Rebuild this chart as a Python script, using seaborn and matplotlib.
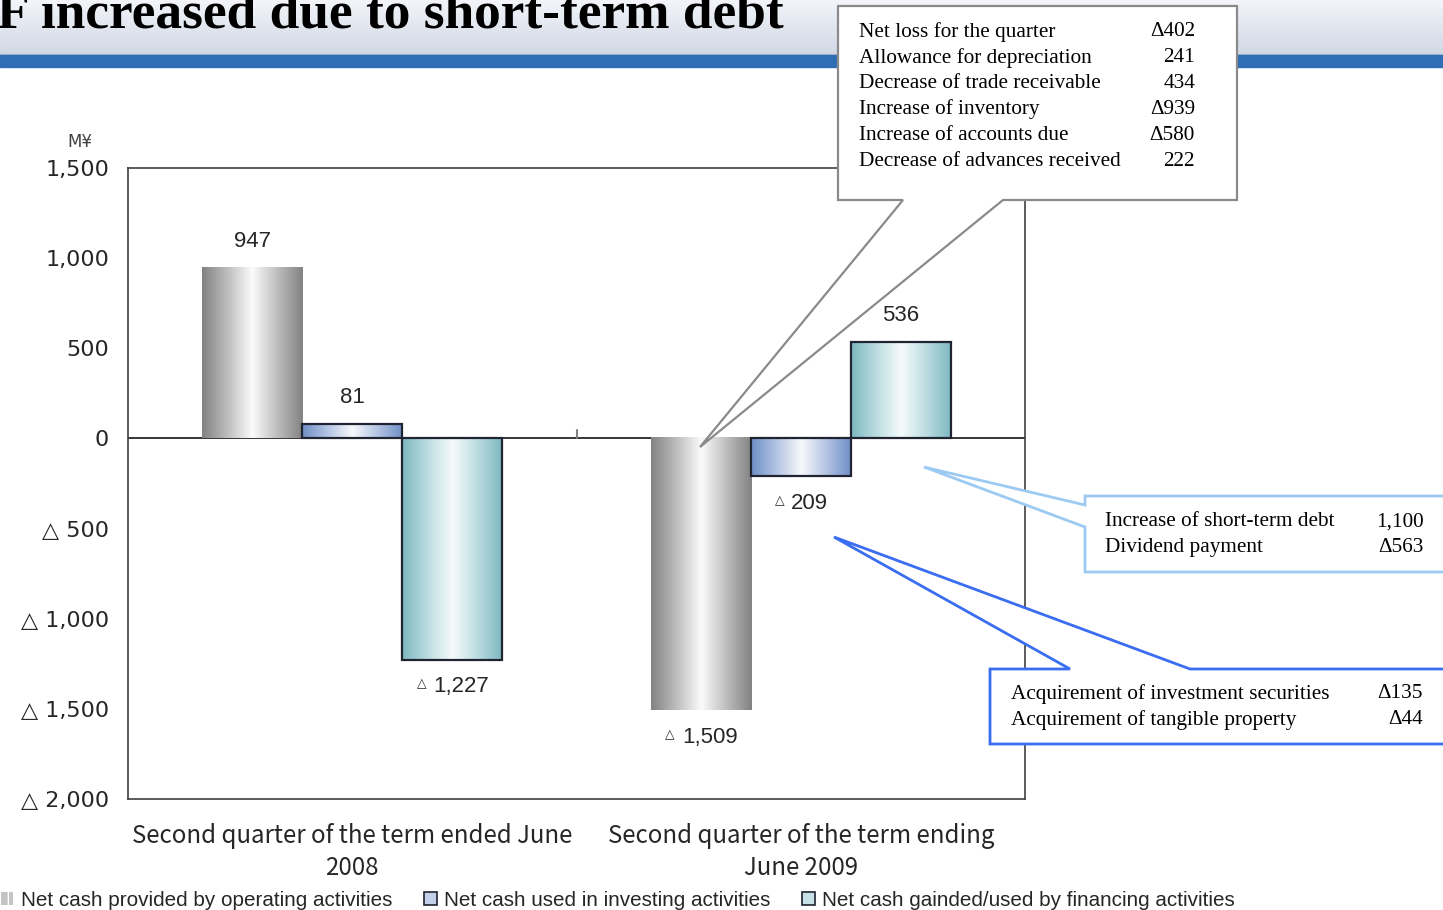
import numpy as np
import pandas as pd
import matplotlib
matplotlib.use("Agg")
import matplotlib.pyplot as plt
import seaborn as sns
from matplotlib.colors import LinearSegmentedColormap
from matplotlib.patches import Rectangle, Patch, Polygon

# ---------------- data ----------------
periods = ["Second quarter of the term ended June\n2008",
           "Second quarter of the term ending\nJune 2009"]
series = ["Net cash provided by operating activities",
          "Net cash used in investing activities",
          "Net cash gainded/used by financing activities"]
operating = [947, -1509]
investing = [81, -209]
financing = [-1227, 536]
y_ticks = [1500, 1000, 500, 0, -500, -1000, -1500, -2000]

title_text = "F increased due to short-term debt"
unit_label = "M¥"

op_items = ["Net loss for the quarter", "Allowance for depreciation",
            "Decrease of trade receivable", "Increase of inventory",
            "Increase of accounts due", "Decrease of advances received"]
op_values = ["Δ402", "241", "434", "Δ939", "Δ580", "222"]
fin_items = ["Increase of short-term debt", "Dividend payment"]
fin_values = ["1,100", "Δ563"]
inv_items = ["Acquirement of investment securities", "Acquirement of tangible property"]
inv_values = ["Δ135", "Δ44"]

# ---------------- style ----------------
sns.set_theme(style="white")
plt.rcParams["font.family"] = ["DejaVu Sans"]

W, H = 1443, 910
fig = plt.figure(figsize=(W / 100, H / 100), dpi=100)
fig.patch.set_facecolor("white")


def fx(px):
    return px / W


def fy(py):
    return 1 - py / H


# ---------------- title bar ----------------
bg_ax = fig.add_axes([0, fy(54), 1, 54 / H], zorder=-2)
grad_v = np.linspace(0, 1, 64).reshape(-1, 1)
bg_ax.imshow(grad_v, aspect="auto", extent=(0, 1, 0, 1), origin="upper",
             cmap=LinearSegmentedColormap.from_list("tb", ["#f3f5fa", "#e2e6ef", "#d2d8e5"]))
bg_ax.set_axis_off()
fig.add_artist(Rectangle((0, fy(55)), 1, 1 / H, transform=fig.transFigure,
                         color="#b8c0cf", zorder=-1))
fig.add_artist(Rectangle((0, fy(67)), 1, 12 / H, transform=fig.transFigure,
                         color="#2f6eb5", zorder=-1))
fig.text(fx(-3), fy(28), title_text, fontfamily="Liberation Serif", fontweight="bold",
         fontsize=38.4, va="baseline", ha="left", color="black", zorder=1)

# ---------------- main axes ----------------
ax = fig.add_axes([fx(128), fy(799), fx(1025) - fx(128), (799 - 168) / H])

rows = []
for s, vals in zip(series, [operating, investing, financing]):
    for p, v in zip(periods, vals):
        rows.append({"period": p, "series": s, "value": v})
df = pd.DataFrame(rows)

sns.barplot(data=df, x="period", y="value", hue="series", order=periods,
            hue_order=series, width=0.67, legend=False, ax=ax,
            palette=["#c0c0c0", "#b5c5e3", "#bcdde1"], saturation=1, errorbar=None)

grad_cols = [
    ["#828282", "#bdbdbd", "#fbfbfb", "#bdbdbd", "#828282"],
    ["#6e8fc6", "#b3c3e2", "#f8f9fc", "#b3c3e2", "#6e8fc6"],
    ["#7cb7c0", "#bbdce0", "#f6fbfb", "#bbdce0", "#7cb7c0"],
]
edge_cols = [None, "#1f2430", "#1f2430"]
grad_h = np.linspace(0, 1, 256).reshape(1, -1)

for i, cont in enumerate(ax.containers):
    cmap = LinearSegmentedColormap.from_list(f"g{i}", grad_cols[i])
    for bar in cont:
        x0, w = bar.get_x(), bar.get_width()
        y0, h = bar.get_y(), bar.get_height()
        ax.imshow(grad_h, aspect="auto", cmap=cmap, zorder=2,
                  extent=(x0, x0 + w, min(y0, y0 + h), max(y0, y0 + h)))
        bar.set_facecolor("none")
        if edge_cols[i] is None:
            bar.set_edgecolor("none")
        else:
            bar.set_edgecolor(edge_cols[i])
            bar.set_linewidth(1.6)
        bar.set_zorder(3)

ax.set_xlim(-0.5, 1.5)
ax.set_ylim(-2000, 1500)
ax.axhline(0, color="black", lw=1.1, zorder=1)
zero_frac = (0 - (-2000)) / 3500
ax.axvline(0.5, ymin=zero_frac, ymax=zero_frac + 8 / 631, color="#808080", lw=1.5, zorder=1)

for sp in ax.spines.values():
    sp.set_visible(True)
    sp.set_color("#404040")
    sp.set_linewidth(1.2)

ax.set_yticks(y_ticks)
ax.set_yticklabels([f"{v:,}" if v >= 0 else f"△ {-v:,}" for v in y_ticks],
                   fontsize=16, fontfamily="DejaVu Sans")
ax.set_xticks(range(len(periods)))
ax.set_xticklabels(periods, fontsize=17.3, fontfamily="Noto Sans CJK JP", linespacing=1.3)
ax.tick_params(axis="both", length=0)
ax.tick_params(axis="y", pad=13.5)
ax.tick_params(axis="x", pad=17)
ax.set_xlabel("")
ax.set_ylabel("")
ax.grid(False)

fig.text(fx(80), fy(142), unit_label, fontsize=12, color="#404040", ha="center", va="center")

# bar value labels
for i, cont in enumerate(ax.containers):
    vals = [operating, investing, financing][i]
    for bar, v in zip(cont, vals):
        xc = bar.get_x() + bar.get_width() / 2
        if v >= 0:
            ax.annotate(f"{v:,}", xy=(xc, v), xytext=(0, 19), textcoords="offset points",
                        ha="center", va="center", fontsize=16, fontfamily="Liberation Sans",
                        zorder=5)
        else:
            t = ax.annotate(f"{-v:,}", xy=(xc, v), xytext=(6.5, -19.5), textcoords="offset points",
                            ha="center", va="center", fontsize=16, fontfamily="Liberation Sans",
                            zorder=5)
            ax.annotate("△", xy=(0, 0.5), xycoords=t, xytext=(-5, 2), textcoords="offset points",
                        ha="right", va="center", fontsize=9, fontfamily="DejaVu Sans", zorder=5)

# ---------------- callouts ----------------
def px_poly(pts):
    return [(fx(x), fy(y)) for x, y in pts]


call1 = Polygon(px_poly([(838, 6), (1237, 6), (1237, 200), (1003, 200), (700, 447),
                         (903, 200), (838, 200)]),
                closed=True, transform=fig.transFigure, facecolor="white",
                edgecolor="#8a8a8a", lw=1.6, zorder=10)
call2 = Polygon(px_poly([(1085, 496), (1460, 496), (1460, 572), (1085, 572), (1085, 527),
                         (924, 467), (1085, 505)]),
                closed=True, transform=fig.transFigure, facecolor="white",
                edgecolor="#9ccaf3", lw=2, zorder=10)
call3 = Polygon(px_poly([(990, 669), (1070, 669), (834, 537), (1190, 669), (1460, 669),
                         (1460, 744), (990, 744)]),
                closed=True, transform=fig.transFigure, facecolor="white",
                edgecolor="#3a6df0", lw=2, zorder=10)
for c in (call1, call2, call3):
    fig.add_artist(c)

serif = dict(fontfamily="Liberation Serif", fontsize=15.3, va="center", zorder=11, color="black")
for k, (lab, val) in enumerate(zip(op_items, op_values)):
    y = 32 + k * 25.8
    fig.text(fx(859), fy(y), lab, ha="left", **serif)
    fig.text(fx(1195), fy(y), val, ha="right", **serif)
for k, (lab, val) in enumerate(zip(fin_items, fin_values)):
    y = 522 + k * 25.5
    fig.text(fx(1105), fy(y), lab, ha="left", **serif)
    fig.text(fx(1424), fy(y), val, ha="right", **serif)
for k, (lab, val) in enumerate(zip(inv_items, inv_values)):
    y = 694 + k * 26
    fig.text(fx(1011), fy(y), lab, ha="left", **serif)
    fig.text(fx(1423), fy(y), val, ha="right", **serif)

# ---------------- legend ----------------
handles = [Patch(facecolor="#c4c4c4", edgecolor="white", hatch="|", lw=0),
           Patch(facecolor="#c3d0e9", edgecolor="#1f2430", lw=1.2),
           Patch(facecolor="#c6e2e6", edgecolor="#1f2430", lw=1.2)]
fig.legend(handles, series, loc="center left", bbox_to_anchor=(fx(1), fy(900)),
           ncol=3, frameon=False, handlelength=0.6, handleheight=0.6,
           handletextpad=0.35, columnspacing=1.55, borderpad=0, borderaxespad=0,
           prop={"family": "Liberation Sans", "size": 14.9})

fig.savefig("out.png", dpi=100)
